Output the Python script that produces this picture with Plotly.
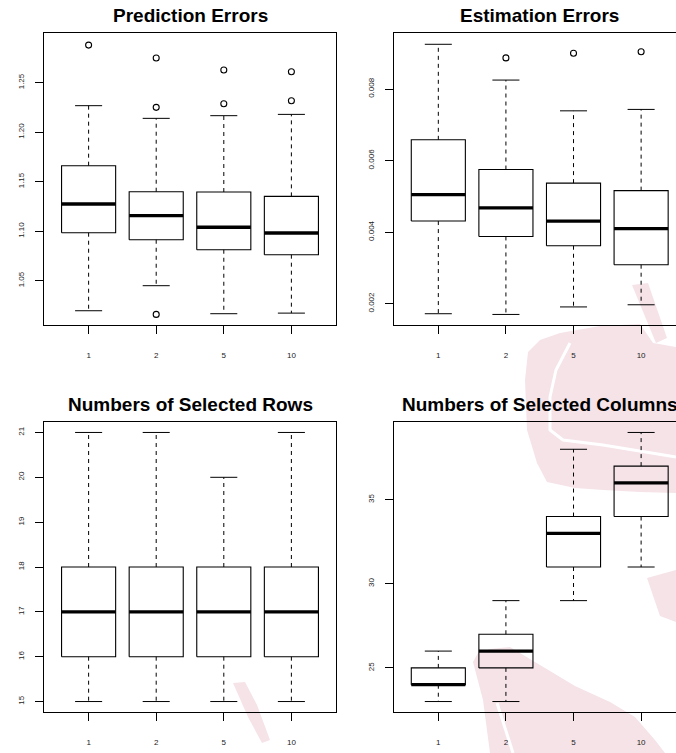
import plotly.graph_objects as go

# ---- data: five-number summaries per setting, plus outlying points ----
groups = ["1", "2", "5", "10"]

pred_lower = [1.0197, 1.0450, 1.0167, 1.0173]
pred_q1 = [1.0985, 1.0914, 1.0813, 1.0763]
pred_median = [1.1275, 1.1157, 1.1040, 1.0982]
pred_q3 = [1.1662, 1.1399, 1.1396, 1.1352]
pred_upper = [1.2268, 1.2140, 1.2167, 1.2180]
pred_outliers = [[1.2880], [1.2750, 1.2251, 1.0160], [1.2628, 1.2288], [1.2611, 1.2318]]

est_lower = [0.00172, 0.00170, 0.00191, 0.00197]
est_q1 = [0.00431, 0.00388, 0.00362, 0.00309]
est_median = [0.00505, 0.00468, 0.00431, 0.00410]
est_q3 = [0.00658, 0.00575, 0.00537, 0.00516]
est_upper = [0.00925, 0.00825, 0.00739, 0.00743]
est_outliers = [[], [0.00887], [0.00900], [0.00904]]

rows_lower = [15, 15, 15, 15]
rows_q1 = [16, 16, 16, 16]
rows_median = [17, 17, 17, 17]
rows_q3 = [18, 18, 18, 18]
rows_upper = [21, 21, 20, 21]
rows_outliers = [[], [], [], []]

cols_lower = [23, 23, 29, 31]
cols_q1 = [24, 25, 31, 34]
cols_median = [24, 26, 33, 36]
cols_q3 = [25, 27, 34, 37]
cols_upper = [26, 29, 38, 39]
cols_outliers = [[], [], [], []]

pred_ticks = [1.05, 1.10, 1.15, 1.20, 1.25]
est_ticks = [0.002, 0.004, 0.006, 0.008]
rows_ticks = [15, 16, 17, 18, 19, 20, 21]
cols_ticks = [25, 30, 35]

W, H = 676, 753
BOXWEX = 0.8
STAPLE = 0.4


def fx(px):
    return px / W


def fy(py):
    return 1 - py / H


fig = go.Figure()

panels = [
    dict(title="Prediction Errors", lo=pred_lower, q1=pred_q1, med=pred_median, q3=pred_q3,
         hi=pred_upper, out=pred_outliers, ticks=pred_ticks, fmt="%.2f",
         yr=[1.0053, 1.2999], xdom=(44, 336), ydom=(33.3, 325), xr=[0.34, 4.66], mirror_y=True),
    dict(title="Estimation Errors", lo=est_lower, q1=est_q1, med=est_median, q3=est_q3,
         hi=est_upper, out=est_outliers, ticks=est_ticks, fmt="%.3f",
         yr=[0.001405, 0.009557], xdom=(393.7, 676), ydom=(33.3, 325),
         xr=[0.34, 0.34 + (676 - 393.7) / 67.6], mirror_y=False),
    dict(title="Numbers of Selected Rows", lo=rows_lower, q1=rows_q1, med=rows_median, q3=rows_q3,
         hi=rows_upper, out=rows_outliers, ticks=rows_ticks, fmt="%d",
         yr=[14.76, 21.24], xdom=(44, 336), ydom=(421.7, 712.3), xr=[0.34, 4.66], mirror_y=True),
    dict(title="Numbers of Selected Columns", lo=cols_lower, q1=cols_q1, med=cols_median, q3=cols_q3,
         hi=cols_upper, out=cols_outliers, ticks=cols_ticks, fmt="%d",
         yr=[22.36, 39.64], xdom=(393.7, 676), ydom=(421.7, 712.3),
         xr=[0.34, 0.34 + (676 - 393.7) / 67.6], mirror_y=False),
]

BLACK = "black"
layout_axes = {}
annotations = []

for i, p in enumerate(panels, start=1):
    xa = "x" if i == 1 else f"x{i}"
    ya = "y" if i == 1 else f"y{i}"
    pos = list(range(1, len(groups) + 1))

    bx, by, mx, my, wx, wy, sx, sy = [], [], [], [], [], [], [], []
    ox, oy = [], []
    for c, lo, q1, med, q3, hi, outs in zip(pos, p["lo"], p["q1"], p["med"], p["q3"], p["hi"], p["out"]):
        h = BOXWEX / 2
        s = STAPLE / 2
        bx += [c - h, c + h, c + h, c - h, c - h, None]
        by += [q1, q1, q3, q3, q1, None]
        mx += [c - h, c + h, None]
        my += [med, med, None]
        wx += [c, c, None, c, c, None]
        wy += [q3, hi, None, q1, lo, None]
        sx += [c - s, c + s, None, c - s, c + s, None]
        sy += [hi, hi, None, lo, lo, None]
        ox += [c] * len(outs)
        oy += list(outs)

    common = dict(xaxis=xa, yaxis=ya, hoverinfo="skip", showlegend=False)
    fig.add_trace(go.Scatter(x=wx, y=wy, mode="lines",
                             line=dict(color=BLACK, width=1, dash="4px,4px"), **common))
    fig.add_trace(go.Scatter(x=sx, y=sy, mode="lines",
                             line=dict(color=BLACK, width=1), **common))
    fig.add_trace(go.Scatter(x=bx, y=by, mode="lines",
                             line=dict(color=BLACK, width=1.1), **common))
    fig.add_trace(go.Scatter(x=mx, y=my, mode="lines",
                             line=dict(color=BLACK, width=3.3), **common))
    if ox:
        fig.add_trace(go.Scatter(x=ox, y=oy, mode="markers",
                                 marker=dict(symbol="circle-open", size=6, color=BLACK,
                                             line=dict(width=1.1, color=BLACK)), **common))

    x0, x1 = p["xdom"]
    y0, y1 = p["ydom"]
    key_x = "xaxis" if i == 1 else f"xaxis{i}"
    key_y = "yaxis" if i == 1 else f"yaxis{i}"
    layout_axes[key_x] = dict(
        domain=[fx(x0), fx(x1)], range=p["xr"], anchor=ya,
        tickmode="array", tickvals=pos, ticktext=groups,
        showline=True, mirror=True, linecolor=BLACK, linewidth=1,
        ticks="outside", ticklen=8, tickwidth=1, tickcolor=BLACK,
        tickfont=dict(family="Liberation Sans, Arial", size=8, color="#222"),
        ticklabelstandoff=14, showgrid=False, zeroline=False, fixedrange=True,
    )
    layout_axes[key_y] = dict(
        domain=[fy(y1), fy(y0)], range=p["yr"], anchor=xa,
        tickmode="array", tickvals=p["ticks"],
        ticktext=[p["fmt"] % v for v in p["ticks"]],
        tickangle=-90,
        showline=True, mirror=p["mirror_y"], linecolor=BLACK, linewidth=1,
        ticks="outside", ticklen=8, tickwidth=1, tickcolor=BLACK,
        tickfont=dict(family="Liberation Sans, Arial", size=8, color="#222"),
        ticklabelstandoff=8, showgrid=False, zeroline=False, fixedrange=True,
    )
    annotations.append(dict(
        text=f"<b>{p['title']}</b>", xref="paper", yref="paper",
        x=fx((x0 + x0 + 292) / 2), y=fy(y0 - 17.5), xanchor="center", yanchor="middle",
        showarrow=False, font=dict(family="Liberation Sans, Arial", size=19, color="black"),
    ))

# ---- faint pink logo shapes sitting behind the panels ----
PINK = "#f5e3e8"
logo_polys = [
    [(632, 285), (648, 283), (667, 338), (656, 343)],
    [(528, 352), (540, 340), (560, 333), (600, 326), (640, 324), (653, 343), (676, 347),
     (676, 493), (640, 492), (603, 490), (575, 488), (547, 482), (537, 463), (527, 430), (525, 380)],
    [(647, 578), (676, 570), (676, 622), (660, 616)],
    [(473, 662), (478, 653), (490, 649), (510, 647), (540, 665), (575, 686), (610, 702),
     (635, 717), (655, 740), (665, 753), (490, 753), (483, 700)],
    [(233, 683), (245, 682), (257, 705), (270, 740), (262, 743), (248, 717)],
]
logo_gaps = [
    [(570, 343), (556, 370), (550, 397), (550, 430), (563, 440), (603, 445), (676, 457)],
    [(497, 703), (505, 728), (513, 753)],
]


def to_path(pts, close=True):
    d = " ".join(("M" if k == 0 else "L") + f" {fx(a):.5f},{fy(b):.5f}" for k, (a, b) in enumerate(pts))
    return d + (" Z" if close else "")


shapes = []
for poly in logo_polys:
    shapes.append(dict(type="path", path=to_path(poly), xref="paper", yref="paper",
                       fillcolor=PINK, line=dict(width=0), layer="below"))
for gap in logo_gaps:
    shapes.append(dict(type="path", path=to_path(gap, close=False), xref="paper", yref="paper",
                       line=dict(color="white", width=3), layer="below"))

fig.update_layout(
    width=W, height=H, margin=dict(l=0, r=0, t=0, b=0),
    paper_bgcolor="white", plot_bgcolor="rgba(0,0,0,0)",
    showlegend=False, annotations=annotations, shapes=shapes,
    **layout_axes,
)

fig.write_html("out.html", config={"displayModeBar": False})
